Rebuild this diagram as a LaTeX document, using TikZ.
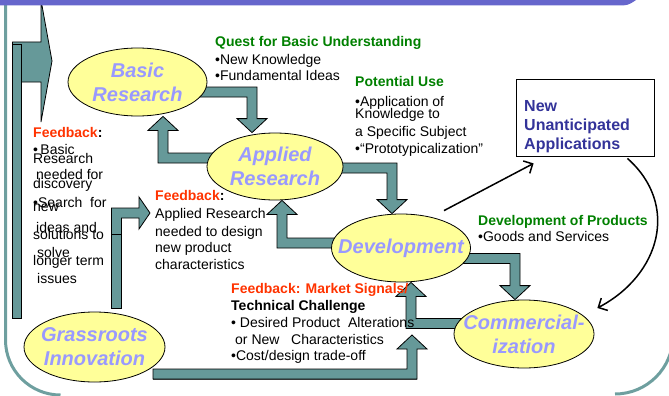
\documentclass[tikz,border=0pt]{standalone}
\usepackage{fontspec}
\setmainfont{Liberation Sans}
\usetikzlibrary{shapes.geometric,arrows.meta,calc,backgrounds}

\newcommand\shafthalf{5pt}
\newcommand\headhalf{15pt}
\newcommand\headlen{14pt}
% fat bent arrow: sideways out of #1, then turning into the tip #2
\newcommand\elbow[2]{%
  \path[blockarrow] let \p1=(#1), \p2=(#2),
      \n1={ifthenelse(\x2>\x1,1,-1)}, \n2={ifthenelse(\y2>\y1,1,-1)} in
    ({\x1},{\y1-(\n2)*\shafthalf})
    -- ({\x2+(\n1)*\shafthalf},{\y1-(\n2)*\shafthalf})
    -- ({\x2+(\n1)*\shafthalf},{\y2-(\n2)*\headlen})
    -- ({\x2+(\n1)*\headhalf},{\y2-(\n2)*\headlen})
    -- (\x2,\y2)
    -- ({\x2-(\n1)*\headhalf},{\y2-(\n2)*\headlen})
    -- ({\x2-(\n1)*\shafthalf},{\y2-(\n2)*\headlen})
    -- ({\x2-(\n1)*\shafthalf},{\y1+(\n2)*\shafthalf})
    -- ({\x1},{\y1+(\n2)*\shafthalf}) -- cycle;}

\begin{document}
\begin{tikzpicture}[x=1pt,y=-1pt,
    stage/.style={ellipse, draw, line width=0.8pt, fill=EggYellow, inner sep=0pt,
      minimum width=139, minimum height=68},
    stagelabel/.style={align=center, text=Lavender,
      font=\fontsize{20}{24}\selectfont\bfseries\itshape},
    blockarrow/.style={draw=black, line width=0.8pt, fill=ArrowTeal},
    note/.style={anchor=base west, inner sep=0pt, font=\fontsize{14}{17}\selectfont},
    heading/.style={note, font=\fontsize{14}{17}\selectfont\bfseries, text=LeafGreen},
    boxnote/.style={note, font=\fontsize{16}{19}\selectfont\bfseries, text=InkBlue},
    thinarrow/.style={line width=1.5pt, -{Straight Barb[length=7pt,width=14pt]}},
    frameline/.style={line width=3pt, draw=FrameTeal}]
    \definecolor{EggYellow}{HTML}{FFFF99}
    \definecolor{Lavender}{HTML}{9999FF}
    \definecolor{ArrowTeal}{HTML}{669999}
    \definecolor{FrameTeal}{HTML}{6E9F9F}
    \definecolor{LeafGreen}{HTML}{008000}
    \definecolor{SignalRed}{HTML}{FF3300}
    \definecolor{InkBlue}{HTML}{333399}
    \definecolor{BarPurple}{HTML}{6666CC}
    \useasboundingbox (0,0) rectangle (669,396);

    % slide frame
    \draw[frameline] (5.5,5) -- (5.5,340) arc[start angle=180, end angle=270, radius=55pt];
    \draw[frameline] (615,394) arc[start angle=270, end angle=360, radius=58pt];

    % the five stages
    \node[stage, label={[stagelabel]center:Basic\\Research}] (basic) at (137.5,82) {};
    \node[stage, minimum width=136, minimum height=67,
          label={[stagelabel]center:Applied\\Research}] (applied) at (275,166.5) {};
    \node[stage, label={[stagelabel]center:Development}] (dev) at (401,248) {};
    \node[stage, minimum width=140, label={[stagelabel]center:Commercial-\\ization}] (comm) at (524,334) {};
    \node[stage, minimum width=141, minimum height=70,
          label={[stagelabel]center:Grassroots\\Innovation}] (grass) at (94.5,347) {};
    \node[draw, line width=0.8pt, minimum width=138, minimum height=77] (newapp) at (585,117.5) {};
    \foreach \yy/\txt [count=\i] in {111/New, 130.7/Unanticipated, 149/Applications}
        \node[boxnote] (app\i) at (524,\yy) {\txt};

    % ends of the fat arrows
    \coordinate (b2as) at ([shift={(-8,10)}]basic.east);
    \coordinate (b2at) at ([shift={(-23,0)}]applied.north);
    \coordinate (a2bs) at ([shift={(8,-8.5)}]applied.west);
    \coordinate (a2bt) at ([shift={(25.5,0)}]basic.south);
    \coordinate (a2ds) at ([shift={(-8,1.5)}]applied.east);
    \coordinate (a2dt) at ([shift={(-9,0)}]dev.north);
    \coordinate (d2as) at ([shift={(8,-5)}]dev.west);
    \coordinate (d2at) at ([shift={(7,0)}]applied.south);
    \coordinate (d2cs) at ([shift={(-8,10.5)}]dev.east);
    \coordinate (d2ct) at ([shift={(-9,0)}]comm.north);
    \coordinate (c2ds) at ([shift={(8,-10.5)}]comm.west);
    \coordinate (c2dt) at ([shift={(10,0)}]dev.south);
    \coordinate (g2ds) at (153,374);
    \coordinate (g2dt) at (412,335);
    \coordinate (g2fs) at (116.5,308);
    \coordinate (g2ft) at (150,213);

    \begin{scope}[on background layer]
        % tall arrow along the left edge
        \draw[blockarrow] (12.5,42) -- (41,42) -- (41,0) -- (52,61) -- (41,122) -- (41,82) -- (12.5,82) -- cycle;
        \draw[blockarrow] (12.5,44) rectangle (21.5,318);
        \elbow{b2as}{b2at}
        \elbow{a2bs}{a2bt}
        \elbow{a2ds}{a2dt}
        \elbow{d2as}{d2at}
        \elbow{d2cs}{d2ct}
        \elbow{c2ds}{c2dt}
        \elbow{g2ds}{g2dt}
        \draw[blockarrow] ([yshift=-\shafthalf]g2ds) rectangle ([shift={(5,5)}]g2dt |- g2ds);
        \path[blockarrow] let \p1=(g2fs), \p2=(g2ft) in
            ({\x1-\shafthalf},\y1) -- ({\x1-\shafthalf},{\y2+\shafthalf}) -- ({\x2-11pt},{\y2+\shafthalf})
            -- ({\x2-11pt},{\y2+16pt}) -- (\x2,\y2) -- ({\x2-11pt},{\y2-16pt}) -- ({\x2-11pt},{\y2-\shafthalf})
            -- ({\x1+\shafthalf},{\y2-\shafthalf}) -- ({\x1+\shafthalf},\y1) -- cycle;
        \draw[blockarrow] ([xshift=-\shafthalf]g2fs) rectangle ([shift={(5,-74)}]g2fs);
    \end{scope}

    % top bar
    \fill[BarPurple] (0,0) -- (636,0) .. controls (628,5.5) .. (614,5.5) -- (0,5.5) -- cycle;

    % thin arrows to and from the new applications
    \draw[thinarrow] ([shift={(43,-3)}]dev.north) -- ([shift={(18,7)}]newapp.south west);
    \draw[thinarrow] ([shift={(-27,2)}]newapp.south east) .. controls (680,205) and (660,275) .. ([shift={(3,-26)}]comm.east);

    % notes
    \node[heading] (quest) at (215,47) {Quest for Basic Understanding};
    \foreach \yy/\txt [count=\i] in {64/•New Knowledge, 80.7/•Fundamental Ideas}
        \node[note] (quest\i) at (215,\yy) {\txt};

    \node[heading] (use) at (355,86.7) {Potential Use};
    \foreach \yy/\txt [count=\i] in {106.7/•Application of, 118.3/Knowledge to,
        136.7/a Specific Subject, 153.3/•“Prototypicalization”}
        \node[note] (use\i) at (355,\yy) {\txt};

    \node[note, font=\fontsize{14}{17}\selectfont\bfseries] (fbbasic) at (33,137) {{\color{SignalRed}Feedback}:};
    \foreach \xx/\yy/\txt [count=\i] in {33/154/•\,Basic, 33/163/Research, 36/179/needed for,
        33/188/discovery, 33/207/{•Search\ \ for}, 33/211/new, 36/232/ideas and,
        33/239/solutions to, 37/257/solve, 33/265/longer term, 37/283/issues}
        \node[note] (fbbasic\i) at (\xx,\yy) {\txt};

    \node[note, font=\fontsize{14}{17}\selectfont\bfseries] (fbapplied) at (155,200.7) {{\color{SignalRed}Feedback}:};
    \foreach \yy/\txt [count=\i] in {218/Applied Research, 236/needed to design,
        252.7/new product, 269.3/characteristics}
        \node[note] (fbapplied\i) at (155,\yy) {\txt};

    \node[note, font=\fontsize{14}{17}\selectfont\bfseries, text=SignalRed] (market) at (231,293) {Feedback: Market Signals/};
    \node[note, font=\fontsize{14}{17}\selectfont\bfseries] (challenge) at (231,310) {Technical Challenge};
    \foreach \xx/\yy/\txt [count=\i] in {231/327.3/{• Desired Product\ \ Alterations},
        235/344/{or New\ \ \ Characteristics}, 231/360.7/{•Cost/design trade-off}}
        \node[note] (challenge\i) at (\xx,\yy) {\txt};

    \node[heading] (products) at (478,225) {Development of Products};
    \node[note] (products1) at (478,241.7) {•Goods and Services};
\end{tikzpicture}
\end{document}
